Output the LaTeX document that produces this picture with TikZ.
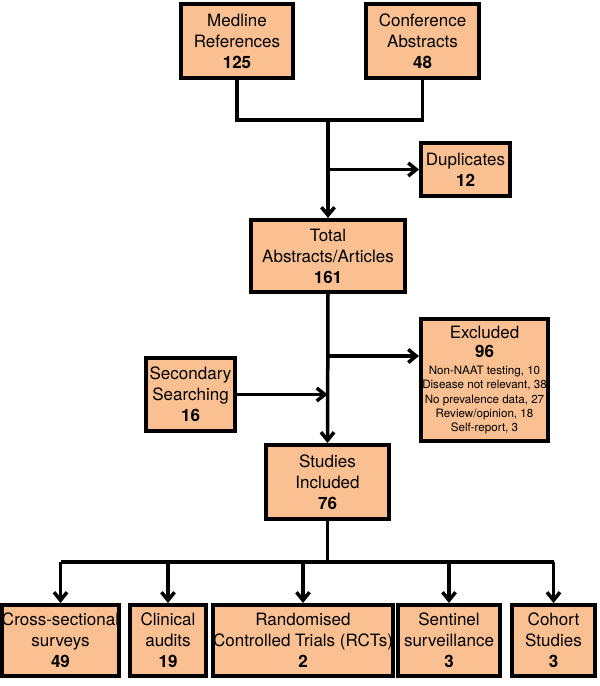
\documentclass[tikz,border=0pt]{standalone}
\usepackage{fontspec}
\setmainfont{TeX Gyre Heros}
\usepackage{tikz}
\usetikzlibrary{arrows.meta}
\definecolor{boxfill}{RGB}{250,192,146}
\def\bigfont{\fontsize{17}{21}\selectfont}
\def\listfont{\fontsize{11.6}{14.3}\selectfont}

\begin{document}
\begin{tikzpicture}[x=1pt,y=-1pt,line width=3.5pt,>={Straight Barb[length=8pt,width=13pt]}]
    \tikzstyle{box}=[draw=black,fill=boxfill,line width=4pt,align=center,inner sep=0pt,font=\bigfont]
    \tikzstyle{study box}=[box,minimum height=71pt]
    \useasboundingbox (0,0) rectangle (600,686);

    % Draw the search sources
    \node[box,minimum width=112pt,minimum height=74pt] (med) at (237,41) {Medline\\References\\\textbf{125}};
    \node[box,minimum width=113pt,minimum height=74pt] (conf) at (422.5,41) {Conference\\Abstracts\\\textbf{48}};
    \node[box,minimum width=89pt,minimum height=53pt] (dup) at (465.5,169.5) {Duplicates\\\textbf{12}};

    % Draw the screening boxes
    \node[box,font=\listfont,minimum width=127pt,minimum height=122pt] (excl) at (484.5,380)
        {{\bigfont Excluded}\\[5pt]{\bigfont\bfseries 96}\\[3pt]
        Non-NAAT testing, 10\\Disease not relevant, 38\\No prevalence data, 27\\Review/opinion, 18\\Self-report, 3};
    \node[box,minimum width=154pt,minimum height=72pt] (total) at (328,256) {Total\\Abstracts/Articles\\\textbf{161}};
    \node[box,minimum width=89pt,minimum height=73pt] (sec) at (190.5,394.5) {Secondary\\Searching\\\textbf{16}};
    \node[box,minimum width=123pt,minimum height=74pt] (inc) at (327.5,482) {Studies\\Included\\\textbf{76}};

    % Draw the study types
    \node[study box,minimum width=117pt] (S-1) at (60.5,640.5) {Cross-sectional\\surveys\\\textbf{49}};
    \node[study box,minimum width=76pt] (S-2) at (168,640.5) {Clinical\\audits\\\textbf{19}};
    \node[study box,minimum width=172pt] (S-3) at (303,640.5) {Randomised\\Controlled Trials (RCTs)\\\textbf{2}};
    \node[study box,minimum width=102pt] (S-4) at (449,640.5) {Sentinel\\surveillance\\\textbf{3}};
    \node[study box,minimum width=83pt] (S-5) at (553.5,640.5) {Cohort\\Studies\\\textbf{3}};

    % Join the sources and go down to the total
    \draw (med.south) -- ++(0,40) -| (conf.south);
    \coordinate (j1) at (total.north |- 0,120);
    \draw[->] (j1) -- (total.north);
    \draw[->] (total.north |- dup.west) -- (dup.west);

    % From the total to the included studies
    \coordinate (j2) at (total.south |- 0,356);
    \draw[->] (total.south) -- (inc.north);
    \draw[->] (j2) -- (j2 -| excl.west);
    \draw[->] (sec.east) -- (sec.east -| inc.north);

    % Split the included studies by type
    \coordinate (j3) at (inc.south |- 0,562);
    \draw (inc.south) -- (j3);
    \draw (S-1.north |- j3) -- (S-5.north |- j3);
    \foreach \dest in {1,...,5}
        \draw[->] (S-\dest.north |- j3) -- (S-\dest.north);
\end{tikzpicture}
\end{document}
